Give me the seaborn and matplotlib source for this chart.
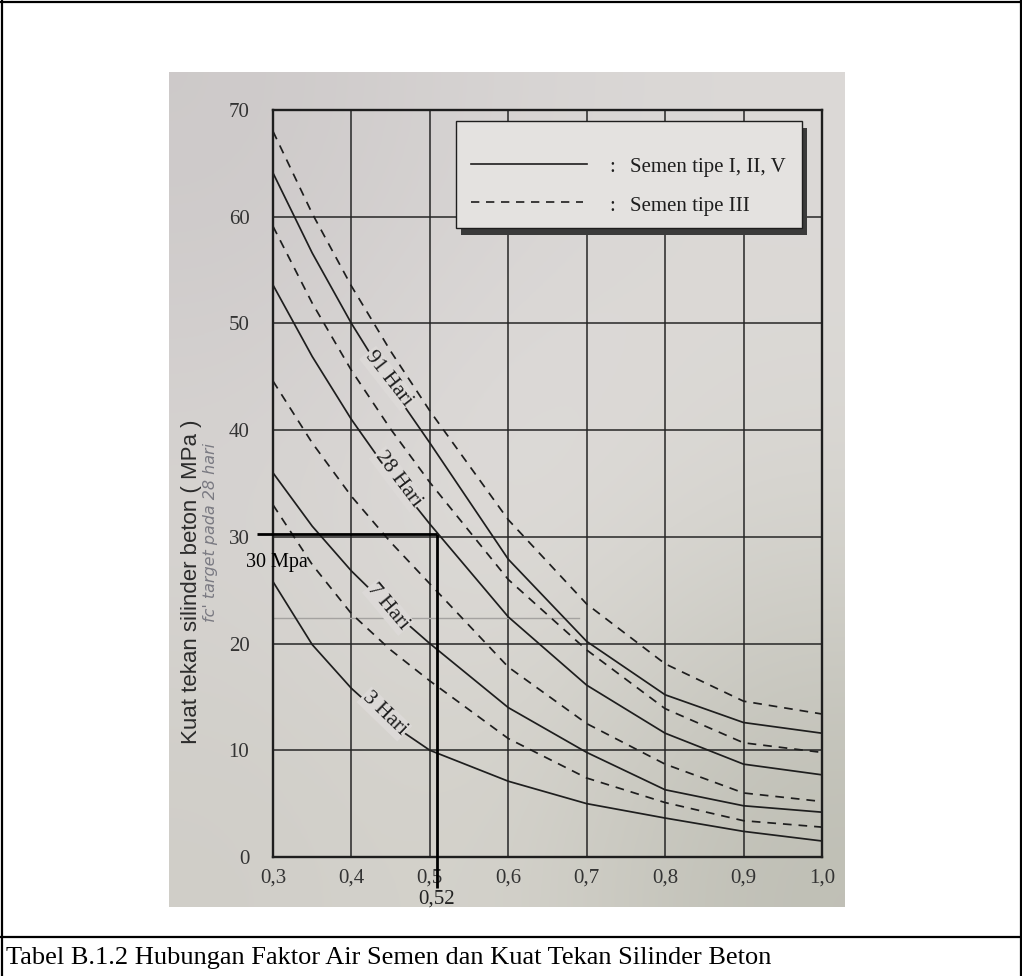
import numpy as np
import pandas as pd
import seaborn as sns
import matplotlib.pyplot as plt
import matplotlib.transforms as mtransforms
from matplotlib.patches import Rectangle
from matplotlib.lines import Line2D

# faktor air semen (sumbu x)
fas = [0.3, 0.35, 0.4, 0.45, 0.5, 0.6, 0.7, 0.8, 0.9, 1.0]
fas_ticks = [0.3, 0.4, 0.5, 0.6, 0.7, 0.8, 0.9, 1.0]
fas_labels = ["0,3", "0,4", "0,5", "0,6", "0,7", "0,8", "0,9", "1,0"]
kuat_ticks = [0, 10, 20, 30, 40, 50, 60, 70]

# semen tipe I, II, V (garis penuh)
semen1_3hari = [25.8, 19.9, 15.8, 12.5, 10.0, 7.1, 5.0, 3.65, 2.4, 1.5]
semen1_7hari = [36.0, 31.0, 26.8, 23.2, 20.0, 14.0, 9.8, 6.3, 4.8, 4.2]
semen1_28hari = [53.6, 46.9, 41.0, 35.8, 31.2, 22.5, 16.1, 11.6, 8.7, 7.7]
semen1_91hari = [64.1, 56.6, 50.0, 44.1, 38.8, 27.9, 20.2, 15.2, 12.6, 11.6]

# semen tipe III (garis putus-putus)
semen3_3hari = [33.0, 27.4, 22.8, 19.4, 16.5, 11.1, 7.4, 5.1, 3.4, 2.8]
semen3_7hari = [44.6, 38.8, 33.8, 29.5, 25.6, 17.8, 12.5, 8.7, 6.0, 5.2]
semen3_28hari = [59.1, 51.9, 45.6, 40.1, 35.1, 26.0, 19.4, 13.9, 10.7, 9.8]
semen3_91hari = [68.0, 60.3, 53.5, 47.4, 41.8, 31.6, 23.7, 18.1, 14.6, 13.4]

umur = ["3 Hari", "7 Hari", "28 Hari", "91 Hari"]
target_kuat = 30.3
target_fas = 0.509

caption = "Tabel B.1.2 Hubungan Faktor Air Semen dan Kuat Tekan Silinder Beton"

rows = []
for hari, s1, s3 in zip(umur,
                        [semen1_3hari, semen1_7hari, semen1_28hari, semen1_91hari],
                        [semen3_3hari, semen3_7hari, semen3_28hari, semen3_91hari]):
    for x, a, b in zip(fas, s1, s3):
        rows.append({"fas": x, "kuat": a, "semen": "I", "kurva": hari + " I"})
        rows.append({"fas": x, "kuat": b, "semen": "III", "kurva": hari + " III"})
df = pd.DataFrame(rows)

serif = ["Liberation Serif", "DejaVu Serif"]
ink = "#1e1e1e"
paper = "#dcd9d7"

W, H = 1022, 976
fx = lambda p: p / W
fy = lambda p: 1 - p / H

fig = plt.figure(figsize=(W / 100, H / 100), dpi=100)
fig.patch.set_facecolor("white")

# background of the scanned photo
bg = fig.add_axes([fx(169), fy(907), fx(845 - 169), (907 - 72) / H])
grad = np.array([
    [[205, 201, 201], [215, 212, 211], [220, 217, 215]],
    [[216, 213, 211], [227, 224, 222], [218, 216, 211]],
    [[208, 206, 200], [214, 212, 205], [190, 190, 180]],
]) / 255
bg.imshow(grad, aspect="auto", interpolation="bicubic")
bg.axis("off")

ax = fig.add_axes([fx(273), fy(857), fx(822 - 273), (857 - 110) / H])
ax.patch.set_alpha(0)

sns.lineplot(data=df, x="fas", y="kuat", units="kurva", estimator=None,
             style="semen", dashes={"I": "", "III": (5, 4)},
             color=ink, lw=1.25, legend=False, sort=False, ax=ax, zorder=3)

ax.set_xlim(0.3, 1.0)
ax.set_ylim(0, 70)
ax.set_xticks(fas_ticks)
ax.set_xticklabels(fas_labels)
ax.set_yticks(kuat_ticks)
ax.grid(True, color="#262626", lw=1.1, zorder=1)
ax.set_axisbelow(True)
ax.tick_params(length=0, labelsize=15, labelcolor="#333333")
ax.tick_params(axis="y", pad=17)
ax.tick_params(axis="x", pad=8)
for lab in ax.get_xticklabels() + ax.get_yticklabels():
    lab.set_fontfamily(serif)
for sp in ax.spines.values():
    sp.set_linewidth(1.7)
    sp.set_color(ink)
ax.set_xlabel("")

ax.set_ylabel("Kuat tekan silinder beton ( MPa )", fontsize=16,
              family=["Liberation Sans", "DejaVu Sans"], color="#2c2c2c")
ax.yaxis.set_label_coords(-0.129, 0.369)
ax.text(-0.114, 0.435, "fc' target pada 28 hari", transform=ax.transAxes,
        rotation=90, ha="center", va="center", fontsize=11.5, style="italic",
        family=["DejaVu Sans"], color="#7a7a82")

# curve labels, sitting on the solid curves
for txt, x, y, rot in [("91 Hari", 0.447, 44.8, -52), ("28 Hari", 0.459, 35.4, -53),
                       ("7 Hari", 0.447, 23.4, -50), ("3 Hari", 0.442, 13.4, -44)]:
    ax.text(x, y, txt, rotation=rot, rotation_mode="anchor", ha="center", va="center",
            fontsize=15.5, family=serif, color=ink, zorder=5,
            bbox=dict(facecolor=paper, edgecolor="none", pad=1.0))

# pencil line
ax.plot([0.3, 0.69], [22.4, 22.4], color="#a4a2a0", lw=1.0, zorder=2)

# target 30 MPa
ax.plot([0.28, target_fas], [target_kuat, target_kuat], color="black", lw=2.0,
        clip_on=False, zorder=6, solid_capstyle="butt")
ax.plot([target_fas, target_fas], [target_kuat, -2.9], color="black", lw=2.0,
        clip_on=False, zorder=6, solid_capstyle="butt")
ax.text(0.2656, 27.6, "30 Mpa", ha="left", va="center", fontsize=14.5,
        family=serif, color="black", zorder=6)
ax.text(target_fas, -3.9, "0,52", ha="center", va="center", fontsize=15,
        family=serif, color="#222222", zorder=6)

# legend box with shadow
lx0, lx1, ly0, ly1 = 0.533, 0.975, 58.9, 69.0
shadow_tr = mtransforms.offset_copy(ax.transData, fig=fig, x=5, y=-7, units="dots")
ax.add_patch(Rectangle((lx0, ly0), lx1 - lx0, ly1 - ly0, transform=shadow_tr,
                       facecolor="#3a3a3a", edgecolor="none", zorder=7))
ax.add_patch(Rectangle((lx0, ly0), lx1 - lx0, ly1 - ly0, facecolor="#e4e2e0",
                       edgecolor=ink, lw=1.0, zorder=8))
ax.plot([0.553, 0.70], [64.9, 64.9], color=ink, lw=1.2, zorder=9)
ax.plot([0.553, 0.695], [61.4, 61.4], color=ink, lw=1.2, ls=(0, (5, 4)), zorder=9)
for y, txt in [(64.6, "Semen tipe I, II, V"), (61.0, "Semen tipe III")]:
    ax.text(0.733, y, ":", ha="center", va="center", fontsize=15, family=serif,
            color=ink, zorder=9)
    ax.text(0.755, y, txt, ha="left", va="center", fontsize=15, family=serif,
            color=ink, zorder=9)

# document frame and caption
for (x0, y0, x1, y1) in [(0, 2, W, 2), (2, 0, 2, H), (W - 1.5, 0, W - 1.5, H), (0, 937, W, 937)]:
    fig.add_artist(Line2D([fx(x0), fx(x1)], [fy(y0), fy(y1)], transform=fig.transFigure,
                          color="black", lw=1.6))
fig.text(fx(6), fy(958), caption, ha="left", va="center", fontsize=19,
         family=serif, color="black")

fig.savefig("out.png", dpi=100)
